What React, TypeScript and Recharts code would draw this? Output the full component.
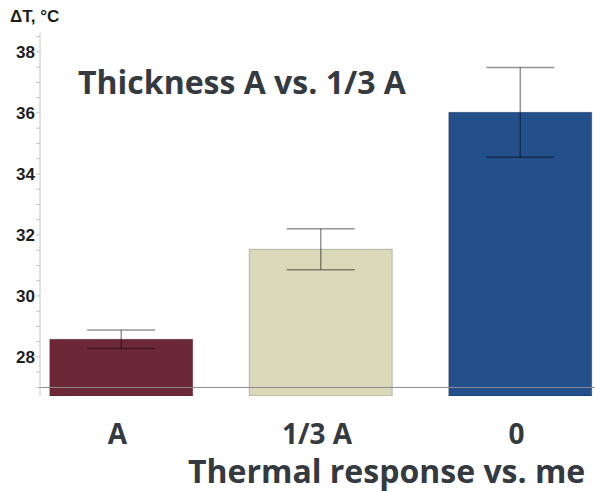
import React from "react";
import {
  BarChart,
  Bar,
  XAxis,
  YAxis,
  ErrorBar,
  ReferenceLine,
  Cell,
} from "recharts";

const categories = ["A", "1/3 A", "0"];
const positions = [0, 1, 2];
const meanValues = [28.58, 31.53, 36.02];
const errorValues = [0.3, 0.67, 1.47];
const barColors = ["#6d2838", "#dad9b9", "#234f8b"];
const yTicks = [
  27, 27.5, 28, 28.5, 29, 29.5, 30, 30.5, 31, 31.5, 32, 32.5, 33, 33.5, 34,
  34.5, 35, 35.5, 36, 36.5, 37, 37.5, 38, 38.5,
];
const yLabels = [28, 30, 32, 34, 36, 38];

const data = positions.map((x, i) => ({
  x,
  name: categories[i],
  value: meanValues[i],
  err: errorValues[i],
}));

const textFont = "'Open Sans', Lato, sans-serif";
const textColor = "#343a40";

const CategoryTick = (props: any) => {
  const { x, y, payload } = props;
  return (
    <text
      x={x - 4}
      y={y + 40}
      textAnchor="middle"
      fontFamily={textFont}
      fontWeight={700}
      fontSize={28}
      fill={textColor}
    >
      {categories[payload.value]}
    </text>
  );
};

const App: React.FC = () => {
  return (
    <div
      style={{
        position: "absolute",
        left: 0,
        top: 0,
        width: 595,
        height: 491,
        overflow: "hidden",
        background: "white",
      }}
    >
      <BarChart
        width={595}
        height={491}
        data={data}
        margin={{ top: 33, right: 0, bottom: 35, left: 0 }}
      >
        <XAxis
          type="number"
          dataKey="x"
          domain={[-0.4085, 2.3734]}
          ticks={positions}
          allowDataOverflow
          axisLine={false}
          tickLine={false}
          height={60}
          tick={<CategoryTick />}
        />
        <YAxis
          type="number"
          domain={[26.72, 38.62]}
          allowDataOverflow
          ticks={yTicks}
          interval={0}
          width={40}
          tickSize={4}
          tickMargin={1}
          axisLine={{ stroke: "#c4c4c4" }}
          tickLine={{ stroke: "#c4c4c4" }}
          tickFormatter={(v: number) => (yLabels.includes(v) ? String(v) : "")}
          tick={{
            fill: "#1e1e1e",
            fontSize: 17,
            fontWeight: 700,
            fontFamily: "'Liberation Sans', Arial, sans-serif",
          }}
        />
        <Bar
          dataKey="value"
          barSize={143}
          isAnimationActive={false}
          stroke="rgba(0,0,0,0.22)"
          strokeWidth={1}
        >
          {data.map((d, i) => (
            <Cell key={d.name} fill={barColors[i]} />
          ))}
          <ErrorBar
            dataKey="err"
            direction="y"
            width={34}
            stroke="#000"
            strokeOpacity={0.42}
            strokeWidth={1.5}
            isAnimationActive={false}
          />
        </Bar>
        <ReferenceLine y={27} stroke="#8a8a8a" strokeWidth={1} />
      </BarChart>
      <div
        style={{
          position: "absolute",
          left: 10,
          top: 7,
          fontFamily: "'Liberation Sans', Arial, sans-serif",
          fontWeight: 700,
          fontSize: 17,
          lineHeight: "20px",
          color: "#1e1e1e",
          whiteSpace: "nowrap",
        }}
      >
        ΔT, °C
      </div>
      <div
        style={{
          position: "absolute",
          left: 78,
          top: 66,
          fontFamily: textFont,
          fontWeight: 700,
          fontSize: 32,
          lineHeight: "32px",
          color: textColor,
          whiteSpace: "nowrap",
        }}
      >
        Thickness A vs. 1/3 A
      </div>
      <div
        style={{
          position: "absolute",
          left: 188,
          top: 455,
          fontFamily: textFont,
          fontWeight: 700,
          fontSize: 32,
          lineHeight: "32px",
          color: textColor,
          whiteSpace: "nowrap",
        }}
      >
        Thermal response vs. me
      </div>
    </div>
  );
};

export default App;
